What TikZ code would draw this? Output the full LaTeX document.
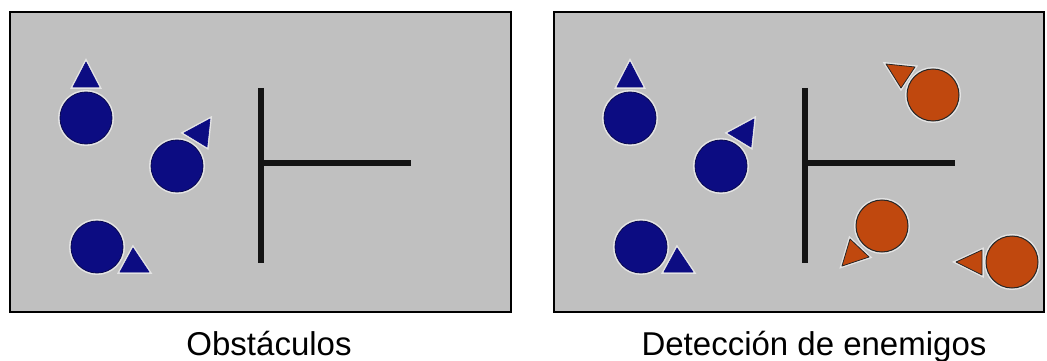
\documentclass[tikz,border=0pt]{standalone}
\usepackage{fontspec}
\setmainfont{Liberation Sans}
\usetikzlibrary{positioning}
\definecolor{panelgray}{RGB}{192,192,192}
\definecolor{botblue}{RGB}{12,12,130}
\definecolor{botred}{RGB}{192,72,14}
\definecolor{halo}{RGB}{228,228,228}

\begin{document}
\begin{tikzpicture}[x=1pt,y=-1pt,
  panel/.style={draw=black,fill=panelgray,line width=1.5pt},
  wall/.style={draw=black!92,line width=6.5pt},
  ally/.style={circle,minimum size=52pt,inner sep=0pt,fill=botblue,draw=botblue!60!black,line width=0.8pt,preaction={draw=halo,line width=4pt}},
  enemy/.style={circle,minimum size=52pt,inner sep=0pt,fill=botred,draw=black!85,line width=1pt,preaction={draw=halo,line width=4pt}},
  allytri/.style={fill=botblue,draw=botblue,line width=0.6pt,line join=round,preaction={draw=halo,line width=3.5pt}},
  enemytri/.style={fill=botred,draw=black!85,line width=0.8pt,line join=round,preaction={draw=halo,line width=3.5pt}},
  caption/.style={font=\fontsize{33}{40}\selectfont,anchor=base}]
\useasboundingbox (0,0) rectangle (1047,361);

% the two arenas
\draw[panel] (10,12) rectangle (511,312);
\draw[panel] (554,12) rectangle (1044,312);

% own robots and walls, same in both arenas
\foreach \p/\dx in {l/0,r/544} {
  \begin{scope}[xshift=\dx]
    \node[ally] (a1\p) at (86,118) {};
    \node[ally] (a2\p) at (177,166) {};
    \node[ally] (a3\p) at (97,247) {};
    \filldraw[allytri] (86,62) -- (73,87) -- (99,87) -- cycle;
    \filldraw[allytri] (210,119) -- (184,133) -- (207,147) -- cycle;
    \filldraw[allytri] (133,248) -- (120,272) -- (149,272) -- cycle;
    \draw[wall] (261,88) -- (261,263);
    \draw[wall] (261,163) -- (411,163);
  \end{scope}
}

% enemies
\node[enemy] (e1) at (933,95) {};
\node[enemy] (e2) at (882,226) {};
\node[enemy] (e3) at (1012,262) {};
\filldraw[enemytri] (886,64) -- (915,67) -- (901,88) -- cycle;
\filldraw[enemytri] (842,266) -- (850,239) -- (869,257) -- cycle;
\filldraw[enemytri] (956,262) -- (982,250) -- (982,275) -- cycle;

\node[caption] (capl) at (269,355) {Obstáculos};
\node[caption] (capr) at (814,355) {Detección de enemigos};
\end{tikzpicture}
\end{document}
